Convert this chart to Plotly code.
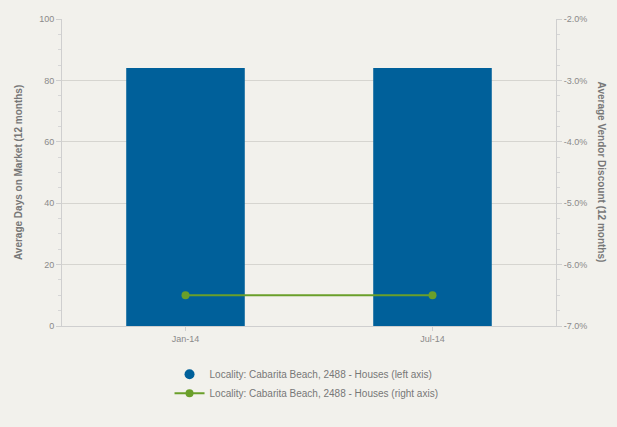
import plotly.graph_objects as go

categories = ["Jan-14", "Jul-14"]
days_on_market = [84, 84]
vendor_discount = [-6.5, -6.5]
right_tick_values = [-7, -6, -5, -4, -3, -2]
right_tick_labels = ["-7.0%", "-6.0%", "-5.0%", "-4.0%", "-3.0%", "-2.0%"]
series_left = "Locality: Cabarita Beach, 2488 - Houses (left axis)"
series_right = "Locality: Cabarita Beach, 2488 - Houses (right axis)"

blue = "#00609a"
green = "#6a9f2a"
grey = "#8a8a8a"
bg = "#f2f1ec"

fig = go.Figure()
fig.add_trace(go.Bar(x=categories, y=days_on_market, marker_color=blue,
                     marker_line_width=0, width=0.48, showlegend=False, yaxis="y"))
fig.add_trace(go.Scatter(x=[None], y=[None], mode="markers", name=series_left,
                         marker=dict(color=blue, size=10, symbol="circle")))
fig.add_trace(go.Scatter(x=categories, y=vendor_discount, mode="lines+markers",
                         name=series_right, yaxis="y2",
                         line=dict(color=green, width=2),
                         marker=dict(color=green, size=8)))

fig.update_layout(
    width=617, height=427,
    margin=dict(l=62, r=61, t=19, b=101),
    paper_bgcolor=bg, plot_bgcolor=bg,
    font=dict(family="Liberation Sans, Arial, sans-serif", size=9, color=grey),
    xaxis=dict(type="category", range=[-0.5, 1.5], showgrid=False,
               showline=True, linecolor="#cfcfcf", linewidth=1,
               ticks="outside", ticklen=4, tickcolor="#cfcfcf",
               tickfont=dict(size=9, color=grey)),
    yaxis=dict(range=[0, 100], dtick=20, showgrid=True, gridcolor="#d6d5d0",
               showline=True, linecolor="#cfcfcf", ticks="outside", ticklen=5,
               tickcolor="#cfcfcf", zeroline=False,
               minor=dict(dtick=5, ticks="outside", ticklen=3, tickcolor="#d6d6d6"),
               tickfont=dict(size=9, color=grey)),
    yaxis2=dict(range=[-7, -2], overlaying="y", side="right",
                tickvals=right_tick_values, ticktext=right_tick_labels,
                showgrid=False, showline=True, linecolor="#cfcfcf",
                ticks="outside", ticklen=5, tickcolor="#cfcfcf", zeroline=False,
                minor=dict(dtick=0.25, ticks="outside", ticklen=3, tickcolor="#d6d6d6"),
                tickfont=dict(size=9, color=grey)),
    legend=dict(x=0.495, xanchor="center", y=-0.11, yanchor="top",
                orientation="v", bgcolor="rgba(0,0,0,0)",
                font=dict(size=10, color="#777777"), tracegroupgap=0,
                itemwidth=30),
    annotations=[
        dict(text="<b>Average Days on Market (12 months)</b>", xref="paper", yref="paper",
             x=-0.088, y=0.5, textangle=-90, showarrow=False,
             font=dict(size=10, color="#777777"), xanchor="center", yanchor="middle"),
        dict(text="<b>Average Vendor Discount (12 months)</b>", xref="paper", yref="paper",
             x=1.093, y=0.5, textangle=90, showarrow=False,
             font=dict(size=10, color="#777777"), xanchor="center", yanchor="middle"),
    ],
)

fig.write_html("out.html", config={"displayModeBar": False},
               post_script="document.body.style.margin='0';document.body.style.overflow='hidden';")
